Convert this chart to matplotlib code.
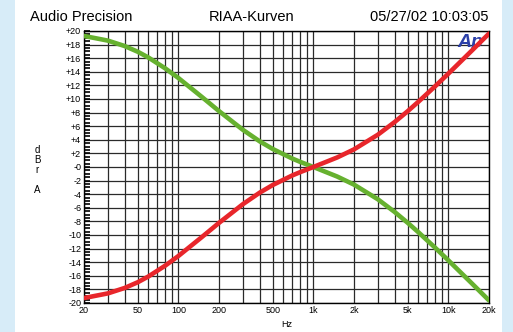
import matplotlib
matplotlib.use("Agg")
import matplotlib.pyplot as plt
from matplotlib.patches import Rectangle
from matplotlib.ticker import FixedLocator, MultipleLocator, NullFormatter

plt.rcParams['font.family'] = ['Liberation Sans', 'DejaVu Sans']

freq_hz = [20, 30, 40, 50, 60, 80, 100, 150, 200, 300, 400, 500, 700, 800,
           1000, 1500, 2000, 3000, 4000, 5000, 6000, 8000, 10000, 15000, 20000]
playback_db = [19.27, 18.59, 17.79, 16.95, 16.10, 14.50, 13.09, 10.27, 8.22,
               5.48, 3.78, 2.65, 1.23, 0.75, 0.0, -1.40, -2.59, -4.74, -6.61,
               -8.21, -9.60, -11.89, -13.73, -17.16, -19.62]
recording_db = [-19.27, -18.59, -17.79, -16.95, -16.10, -14.50, -13.09, -10.27,
                -8.22, -5.48, -3.78, -2.65, -1.23, -0.75, 0.0, 1.40, 2.59, 4.74,
                6.61, 8.21, 9.60, 11.89, 13.73, 17.16, 19.62]

x_tick_vals = [20, 50, 100, 200, 500, 1000, 2000, 5000, 10000, 20000]
x_tick_labels = ["20", "50", "100", "200", "500", "1k", "2k", "5k", "10k", "20k"]
x_grid_vals = [20, 30, 40, 50, 60, 70, 80, 90, 100, 200, 300, 400, 500, 600,
               700, 800, 900, 1000, 2000, 3000, 4000, 5000, 6000, 7000, 8000,
               9000, 10000, 20000]
y_tick_vals = list(range(-20, 21, 2))
y_tick_labels = [("+%d" % v if v > 0 else ("-0" if v == 0 else "%d" % v)) for v in y_tick_vals]

W, H = 513, 332
fig = plt.figure(figsize=(W / 100, H / 100), dpi=100)
fig.patch.set_facecolor('#d7ecf8')
fig.patches.append(Rectangle((15 / W, 0), (502 - 15) / W, 1, transform=fig.transFigure,
                             facecolor='white', edgecolor='none', zorder=-10))

ax = fig.add_axes([84 / W, 1 - 303 / H, (489 - 84) / W, (303 - 31) / H])
ax.set_zorder(1)
ax.set_facecolor('white')
ax.set_xscale('log')
ax.set_xlim(20, 20000)
ax.set_ylim(-20, 20)

for xv in x_grid_vals:
    ax.axvline(xv, color='#2a2a2a', lw=0.9, zorder=1)
for yv in y_tick_vals:
    ax.axhline(yv, color='#2a2a2a', lw=0.9, zorder=1)

ax.plot(freq_hz, playback_db, color='#66b12f', lw=3.3, solid_capstyle='round', zorder=3)
ax.plot(freq_hz, recording_db, color='#e8262b', lw=3.3, solid_capstyle='round', zorder=4)

ax.xaxis.set_major_locator(FixedLocator(x_tick_vals))
ax.xaxis.set_minor_locator(FixedLocator([]))
ax.xaxis.set_minor_formatter(NullFormatter())
ax.set_xticklabels(x_tick_labels)
ax.yaxis.set_major_locator(FixedLocator(y_tick_vals))
ax.set_yticklabels(y_tick_labels)
ax.yaxis.set_minor_locator(MultipleLocator(0.5))

ax.tick_params(axis='x', which='major', length=0, pad=2.5, labelsize=6.5)
ax.tick_params(axis='y', which='major', direction='in', length=4, width=1.2, pad=2, labelsize=6.5)
ax.tick_params(axis='y', which='minor', direction='in', length=4, width=1.2)

for s in ax.spines.values():
    s.set_color('black')
    s.set_linewidth(1.0)

ax.set_xlabel("Hz", fontsize=6.5, labelpad=3)

fig.text(30 / W, 1 - 17 / H, "Audio Precision", fontsize=10.5, ha='left', va='center')
fig.text(252 / W, 1 - 17 / H, "RIAA-Kurven", fontsize=10.5, ha='center', va='center')
fig.text(489 / W, 1 - 17 / H, "05/27/02 10:03:05", fontsize=10.5, ha='right', va='center')
fig.text(37 / W, 1 - 170 / H, "d\nB\nr\n\nA", fontsize=7, ha='center', va='center',
         linespacing=1.0)

ax.text(0.985, 0.99, "Ap", transform=ax.transAxes, fontsize=14, color='#2b3fa8',
        fontweight='bold', fontstyle='italic', ha='right', va='top', zorder=2)

fig.savefig("out.png", dpi=100)
